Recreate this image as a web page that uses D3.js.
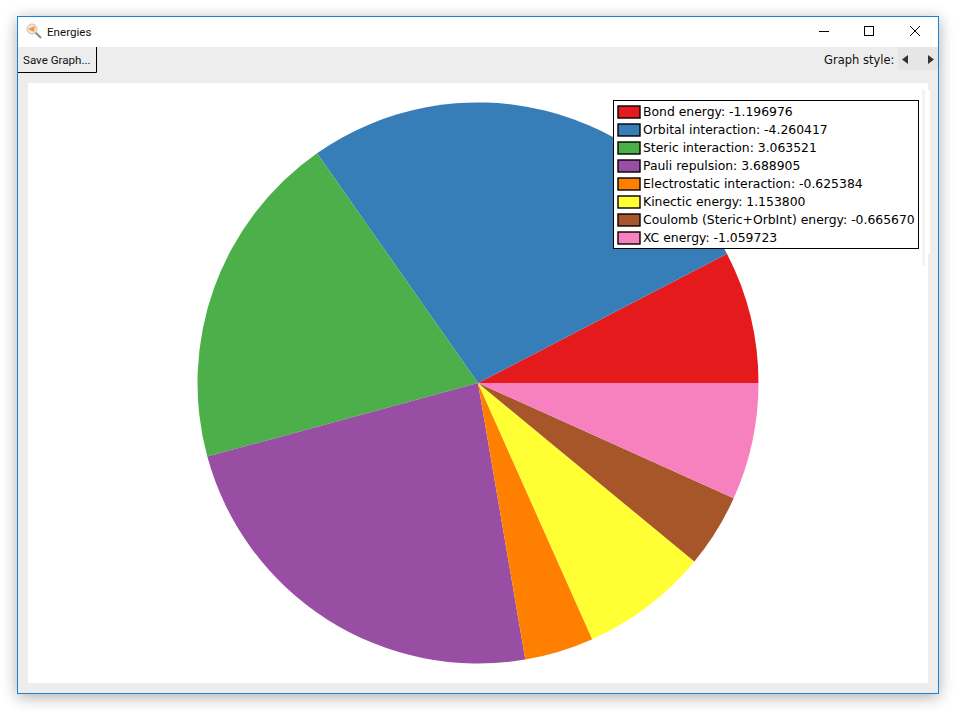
<!DOCTYPE html>
<html>
<head>
<meta charset="utf-8">
<title>Energies</title>
<script src="https://cdnjs.cloudflare.com/ajax/libs/d3/7.8.5/d3.min.js"></script>
<style>
  html, body { margin: 0; padding: 0; background: #fff; }
  svg { display: block; }
  .ui { font-family: Roboto, "Noto Sans", sans-serif; font-size: 11.6px; fill: #111; }
  .uiWide { font-family: "DejaVu Sans", sans-serif; font-size: 11.5px; fill: #111; }
  .legendText { font-family: "DejaVu Sans", sans-serif; font-size: 12.4px; fill: #000; }
</style>
</head>
<body>
<svg id="chart" width="960" height="716"></svg>
<script>
const labels = ["Bond energy", "Orbital interaction", "Steric interaction", "Pauli repulsion",
  "Electrostatic interaction", "Kinectic energy", "Coulomb (Steric+OrbInt) energy", "XC energy"];
const values = ["-1.196976", "-4.260417", "3.063521", "3.688905", "-0.625384", "1.153800", "-0.665670", "-1.059723"];
const colors = ["#e41a1c", "#377eb8", "#4daf4a", "#984ea3", "#ff7f00", "#ffff33", "#a65628", "#f781bf"];

const svg = d3.select("#chart");

// window frame with its drop shadow
const defs = svg.append("defs");
defs.append("filter").attr("id", "shadow")
  .attr("x", "-5%").attr("y", "-5%").attr("width", "110%").attr("height", "110%")
  .append("feGaussianBlur").attr("stdDeviation", 8);

svg.append("rect").attr("x", 17).attr("y", 19).attr("width", 922).attr("height", 678)
  .attr("fill", "#000").attr("opacity", 0.32).attr("filter", "url(#shadow)");
svg.append("rect").attr("x", 17.5).attr("y", 16.5).attr("width", 921).attr("height", 677)
  .attr("fill", "#ededed").attr("stroke", "#1883d7");
svg.append("rect").attr("x", 18).attr("y", 17).attr("width", 920).attr("height", 30).attr("fill", "#fff");

// title bar
const icon = svg.append("g").attr("transform", "translate(26,23)");
icon.append("line").attr("x1", 9).attr("y1", 9).attr("x2", 15).attr("y2", 15)
  .attr("stroke", "#8a8a8a").attr("stroke-width", 2);
icon.append("circle").attr("cx", 6).attr("cy", 6).attr("r", 5).attr("fill", "#fbe3cf").attr("stroke", "#c4c4c4");
icon.append("path").attr("d", "M2 6L9 3L8 9Z").attr("fill", "#f59a3c");
svg.append("text").attr("class", "ui").attr("x", 47).attr("y", 36).text("Energies");

svg.append("line").attr("x1", 819).attr("x2", 829).attr("y1", 31.5).attr("y2", 31.5).attr("stroke", "#000");
svg.append("rect").attr("x", 864.5).attr("y", 26.5).attr("width", 9).attr("height", 9).attr("fill", "none").attr("stroke", "#000");
svg.append("path").attr("d", "M910 26L920 36M920 26L910 36").attr("stroke", "#000").attr("fill", "none");

// toolbar
svg.append("path").attr("d", "M96.5 47V72.5H18").attr("fill", "none").attr("stroke", "#000");
svg.append("text").attr("class", "ui").attr("x", 23).attr("y", 64).text("Save Graph...");
svg.append("text").attr("class", "uiWide").attr("x", 824).attr("y", 64).text("Graph style:");
svg.append("rect").attr("x", 898).attr("y", 47).attr("width", 40).attr("height", 23).attr("fill", "#e6e6e6");
svg.append("path").attr("d", "M908 55V64L902 59.5Z").attr("fill", "#333");
svg.append("path").attr("d", "M928 55V64L934 59.5Z").attr("fill", "#333");

// plot panel, plus the leftover strips at its right edge
svg.append("rect").attr("x", 28).attr("y", 83).attr("width", 900).attr("height", 600).attr("fill", "#fff");
svg.append("rect").attr("x", 928).attr("y", 90).attr("width", 2).attr("height", 164).attr("fill", "#fff");
svg.append("rect").attr("x", 922).attr("y", 90).attr("width", 3).attr("height", 176).attr("fill", "#f3f3f3");

// pie, slices go counter-clockwise starting from 3 o'clock
const cx = 478, cy = 383, radius = 280.5;
const pie = d3.pie().sort(null).value(d => Math.abs(+d))
  .startAngle(Math.PI / 2).endAngle(Math.PI / 2 - 2 * Math.PI);
const arc = d3.arc().innerRadius(0).outerRadius(radius);

svg.append("g").attr("transform", `translate(${cx},${cy})`)
  .selectAll("path")
  .data(pie(values))
  .join("path")
  .attr("d", arc)
  .attr("fill", (d, i) => colors[i]);

// legend
const legend = svg.append("g");
legend.append("rect").attr("x", 613.5).attr("y", 100.5).attr("width", 305).attr("height", 148)
  .attr("fill", "#fff").attr("stroke", "#000");

const rowY = d3.scaleBand().domain(d3.range(labels.length)).range([103, 247]);
const rows = legend.selectAll("g").data(labels).join("g")
  .attr("transform", (d, i) => `translate(0,${rowY(i)})`);
rows.append("rect").attr("x", 618).attr("y", 3).attr("width", 22).attr("height", 12)
  .attr("fill", (d, i) => colors[i]).attr("stroke", "#000").attr("stroke-width", 1.4);
rows.append("text").attr("class", "legendText").attr("x", 643).attr("y", 13)
  .text((d, i) => `${d}: ${values[i]}`);
</script>
</body>
</html>
